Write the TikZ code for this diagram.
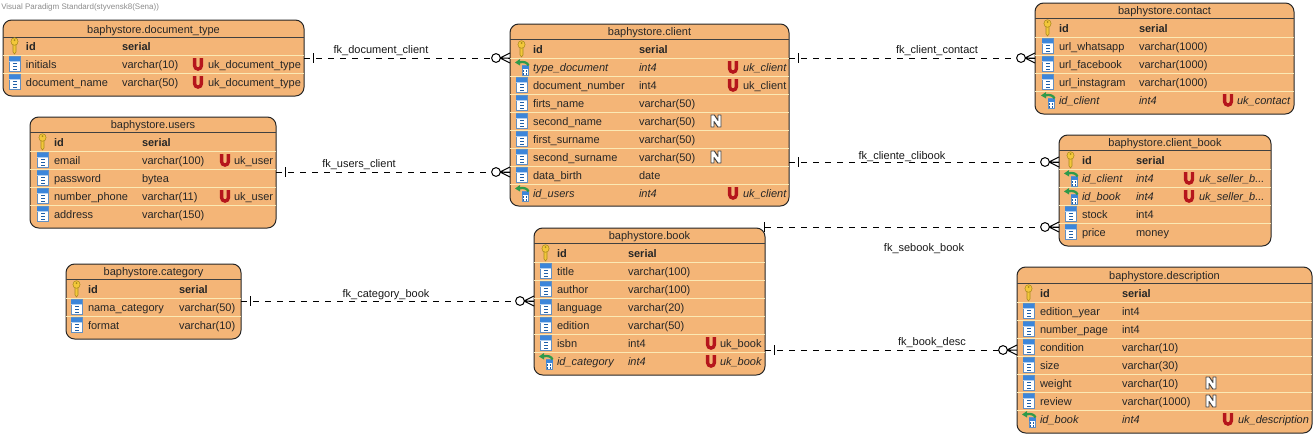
\documentclass[tikz,border=0pt]{standalone}
\usepackage{fontspec}
\setmainfont{Liberation Sans}
\usetikzlibrary{calc}
\definecolor{tblfill}{HTML}{F4B577}
\definecolor{sepc}{HTML}{FBE9B4}
\definecolor{keyc}{HTML}{F3C73A}
\definecolor{keyd}{HTML}{A98A1C}
\definecolor{blueT}{HTML}{3C86DA}
\definecolor{blueD}{HTML}{1F5FA8}
\definecolor{magnet}{HTML}{B5161C}
\definecolor{greenA}{HTML}{2F9A4A}
\newcounter{nid}
\tikzset{
  tbl/.style={draw=black!85,fill=tblfill,line width=0.75pt,rounded corners=6.5pt,inner sep=0pt,outer sep=0pt},
  lbl/.style={anchor=base west,inner sep=0pt,outer sep=0pt,font=\fontsize{8.25pt}{10pt}\selectfont,text=black!85},
  ttl/.style={anchor=base,inner sep=0pt,outer sep=0pt,font=\fontsize{8.25pt}{10pt}\selectfont,text=black!85},
  fkl/.style={anchor=base,inner sep=0pt,outer sep=0pt,font=\fontsize{8.25pt}{10pt}\selectfont,text=black!90},
  rowsep/.style={draw=sepc,line width=0.75pt},
  hdrsep/.style={draw=black!75,line width=0.75pt},
  fk/.style={draw=black,line width=0.75pt,dash pattern=on 4.5pt off 4.5pt},
  fksolid/.style={draw=black,line width=0.75pt},
}
% table frame: title offset, name x0 y0 x1 y1 title
\newcommand\Tbl[7][11.5]{%
  \def\tx{#3}\def\ty{#5}%
  \pgfmathsetmacro\tw{(#5-#3)*0.75}\pgfmathsetmacro\th{(#6-#4)*0.75}%
  \node[tbl,minimum width=\tw pt,minimum height=\th pt] (#2) at ({(#3+#5)/2},{(#4+#6)/2}) {};
  \stepcounter{nid}%
  \node[ttl] (n\arabic{nid}) at ({(#3+#5)/2},#4+#1) {#7};
  \draw[hdrsep] (#3,#4+#1+4) -- (#5,#4+#1+4);
}
% column positions: name, type, U mark, uk text
\newcommand\Cols[4]{\def\cn{#1}\def\ct{#2}\def\cu{#3}\def\ck{#4}}
\newcommand\Put[4][]{\stepcounter{nid}\node[lbl] (n\arabic{nid}) at (#2,#3+4) {#1#4};}
\newcommand\IKey[1]{%
  \begin{scope}[shift={(\cn-11.5,#1)}]
    \fill[keyc,draw=keyd,line width=0.4pt] (-1.5,-3) -- (-1.5,6) -- (0,8) -- (1.5,6) -- (1.5,-3) -- cycle;
    \fill[keyc,draw=keyd,line width=0.4pt] (0,-4.5) ellipse [x radius=3.6,y radius=3.8];
    \fill[keyd] (0,-6) circle [radius=1];
  \end{scope}}
\newcommand\ICol[1]{%
  \begin{scope}[shift={(\cn-11.5,#1)}]
    \fill[white,draw=blueD!70,line width=0.4pt] (-5.5,-7.5) rectangle (5.5,7.5);
    \fill[blueT] (-5.5,-7.5) rectangle (5.5,-2.5);
    \fill[white!60!blueT] (-5.5,-3.5) rectangle (5.5,-2.5);
    \foreach \q in {-0.5,2.5,5.5} \fill[blueD] (-2,\q-0.6) rectangle (2,\q+0.6);
  \end{scope}}
\newcommand\IFk[1]{%
  \begin{scope}[shift={(\cn-11,#1)}]
    \fill[white,draw=blueD!70,line width=0.4pt] (0,-1.5) rectangle (6.5,8);
    \fill[blueT] (0,-1.5) rectangle (6.5,1.5);
    \fill[blueD] (1.2,3) rectangle (2.4,4.6);\fill[blueD] (4,3) rectangle (5.2,4.6);
    \fill[blueD] (1.2,5.6) rectangle (2.4,8);\fill[blueD] (4,5.6) rectangle (5.2,8);
    \draw[greenA,line width=1.7pt] (6.5,-1.5) .. controls (5.5,-4.5) and (2,-5.5) .. (-2,-4.8);
    \fill[greenA] (-7,-4.5) -- (-2,-8) -- (-2,-1.5) -- cycle;
  \end{scope}}
\newcommand\IU[1]{%
  \begin{scope}[shift={(\cu,#1)}]
    \draw[magnet,line width=2.5pt] (-3.4,-5.8) -- (-3.4,1.7) arc [start angle=180,end angle=0,x radius=3.4,y radius=3.4] -- (3.4,-5.8);
  \end{scope}}
\newcommand\IN[2]{%
  \begin{scope}[shift={(#2,#1)}]
    \fill[white,draw=black!75,line width=0.7pt,line join=round] (-5,-6) -- (-1.6,-6) -- (2,-0.5) -- (2,-6) -- (5,-6) -- (5,6) -- (1.8,6) -- (-2,0.5) -- (-2,6) -- (-5,6) -- cycle;
  \end{scope}}
% rows
\newcommand\RK[3]{\IKey{#1}\Put[\bfseries]{\cn}{#1}{#2}\Put[\bfseries]{\ct}{#1}{#3}}
\newcommand\RC[3]{\draw[rowsep] (\tx,#1-9) -- (\ty,#1-9);\ICol{#1}\Put{\cn}{#1}{#2}\Put{\ct}{#1}{#3}}
\newcommand\RF[3]{\draw[rowsep] (\tx,#1-9) -- (\ty,#1-9);\IFk{#1}\Put[\itshape]{\cn}{#1}{#2}\Put[\itshape]{\ct}{#1}{#3}}
\newcommand\UK[2]{\IU{#1}\Put{\ck}{#1}{#2}}
\newcommand\UKi[2]{\IU{#1}\Put[\itshape]{\ck}{#1}{#2}}
% connector: from, to, y, bar offset
\newcommand\FK[4]{%
  \coordinate (s) at (#1.east |- 0,#3);
  \coordinate (e) at (#2.west |- 0,#3);
  \draw[fk] (s) -- (e);
  \draw[fksolid] ($(s)+(#4,-5)$) -- ($(s)+(#4,5)$);
  \draw[fksolid,fill=white] ($(e)+(-14,0)$) circle [radius=4.4];
  \draw[fksolid] ($(e)+(-10,0)$) -- (e) ($(e)+(-10,0)$) -- ($(e)+(0,-5)$) ($(e)+(-10,0)$) -- ($(e)+(0,5)$);
}
\newcommand\FKL[3]{\stepcounter{nid}\node[fkl] (n\arabic{nid}) at (#1,#2) {#3};}
\begin{document}
\begin{tikzpicture}[x=0.75pt,y=-0.75pt]
\useasboundingbox[fill=white] (0,0) rectangle (1316,437);
\node[anchor=base west,inner sep=0pt,font=\fontsize{6pt}{7pt}\selectfont,text=black!45] (wm) at (1,9.5) {Visual Paradigm Standard(styvensk8(Sena))};

% document_type
\Tbl[13]{dt}{3}{20}{304}{96}{baphystore.document\_type}
\Cols{26}{122}{198}{208}
\RK{46}{id}{serial}
\RC{64}{initials}{varchar(10)}\UK{64}{uk\_document\_type}
\RC{82}{document\_name}{varchar(50)}\UK{82}{uk\_document\_type}

% users
\Tbl{us}{30}{117}{276}{228}{baphystore.users}
\Cols{54}{142}{225}{234}
\RK{142}{id}{serial}
\RC{160}{email}{varchar(100)}\UK{160}{uk\_user}
\RC{178}{password}{bytea}
\RC{196}{number\_phone}{varchar(11)}\UK{196}{uk\_user}
\RC{214}{address}{varchar(150)}

% client
\Tbl{cl}{510}{24}{789}{206}{baphystore.client}
\Cols{533}{639}{733}{743}
\RK{49}{id}{serial}
\RF{67}{type\_document}{int4}\UKi{67}{uk\_client}
\RC{85}{document\_number}{int4}\UK{85}{uk\_client}
\RC{103}{firts\_name}{varchar(50)}
\RC{121}{second\_name}{varchar(50)}\IN{121}{716}
\RC{139}{first\_surname}{varchar(50)}
\RC{157}{second\_surname}{varchar(50)}\IN{157}{716}
\RC{175}{data\_birth}{date}
\RF{193}{id\_users}{int4}\UKi{193}{uk\_client}

% contact
\Tbl{ct}{1035}{3}{1294}{114}{baphystore.contact}
\Cols{1059}{1139}{1228}{1237}
\RK{28}{id}{serial}
\RC{46}{url\_whatsapp}{varchar(1000)}
\RC{64}{url\_facebook}{varchar(1000)}
\RC{82}{url\_instagram}{varchar(1000)}
\RF{100}{id\_client}{int4}\UKi{100}{uk\_contact}

% client_book
\Tbl{cb}{1059}{135}{1271}{246}{baphystore.client\_book}
\Cols{1082}{1136}{1189}{1199}
\RK{160}{id}{serial}
\RF{178}{id\_client}{int4}\UKi{178}{uk\_seller\_b...}
\RF{196}{id\_book}{int4}\UKi{196}{uk\_seller\_b...}
\RC{214}{stock}{int4}
\RC{232}{price}{money}

% book
\Tbl{bk}{534}{228}{765}{375}{baphystore.book}
\Cols{557}{628}{711}{720}
\RK{253}{id}{serial}
\RC{271}{title}{varchar(100)}
\RC{289}{author}{varchar(100)}
\RC{307}{language}{varchar(20)}
\RC{325}{edition}{varchar(50)}
\RC{343}{isbn}{int4}\UK{343}{uk\_book}
\RF{361}{id\_category}{int4}\UKi{361}{uk\_book}

% category
\Tbl{ca}{66}{264}{241}{339}{baphystore.category}
\Cols{88}{179}{0}{0}
\RK{289}{id}{serial}
\RC{307}{nama\_category}{varchar(50)}
\RC{325}{format}{varchar(10)}

% description
\Tbl[12.5]{de}{1017}{267}{1312}{433}{baphystore.description}
\Cols{1040}{1122}{1228}{1238}
\RK{293}{id}{serial}
\RC{311}{edition\_year}{int4}
\RC{329}{number\_page}{int4}
\RC{347}{condition}{varchar(10)}
\RC{365}{size}{varchar(30)}
\RC{383}{weight}{varchar(10)}\IN{383}{1211}
\RC{401}{review}{varchar(1000)}\IN{401}{1211}
\RF{419}{id\_book}{int4}\UKi{419}{uk\_description}

% connectors
\FK{dt}{cl}{58}{9}
\FK{us}{cl}{172}{9}
\FK{cl}{ct}{58}{9}
\FK{cl}{cb}{162}{9}
\FK{bk}{cb}{227}{-1}
\FK{ca}{bk}{301}{9}
\FK{bk}{de}{350}{9}
\FKL{381}{53}{fk\_document\_client}
\FKL{359}{167}{fk\_users\_client}
\FKL{937}{53}{fk\_client\_contact}
\FKL{902}{159}{fk\_cliente\_clibook}
\FKL{924}{251}{fk\_sebook\_book}
\FKL{386}{297}{fk\_category\_book}
\FKL{932}{345}{fk\_book\_desc}
\end{tikzpicture}
\end{document}
